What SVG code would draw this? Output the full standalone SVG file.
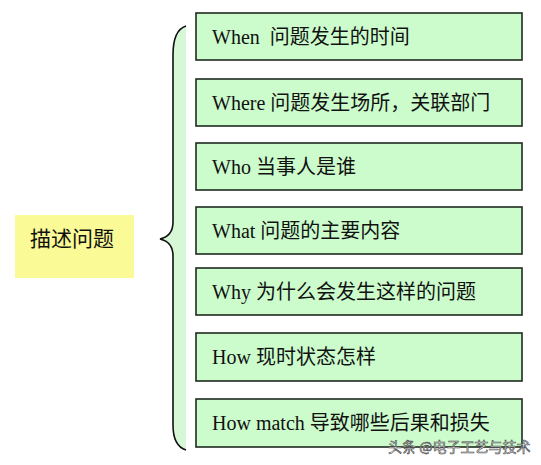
<svg xmlns="http://www.w3.org/2000/svg" width="541" height="465" viewBox="0 0 541 465">
<style>
.box{fill:#ccfccc;stroke:#1f2a1f;stroke-width:1.6}
.t{font-family:"Liberation Serif","Noto Sans CJK SC",serif;font-size:20px;fill:#111}
.main{fill:#fafa96;stroke:none}
</style>
<rect width="541" height="465" fill="#ffffff"/>
<g id="connectors">
<path d="M186,26 Q173,30 173,55 L173,222 Q173,236 160,239 Q173,242 173,256 L173,425 Q173,446 186,450 Z" fill="#d6f8d6" stroke="none"/>
<path d="M186,26 Q173,30 173,55 L173,222 Q173,236 160,239 Q173,242 173,256 L173,425 Q173,446 186,450" fill="none" stroke="#111" stroke-width="1.6"/>
</g>
<g id="main">
<rect class="main" x="15" y="215" width="119" height="63"/>
<text class="t" x="30" y="246" style="font-size:21px">描述问题</text>
</g>
<g id="n1"><rect class="box" x="196" y="13" width="326" height="47"/><text class="t" x="212" y="44" xml:space="preserve">When  问题发生的时间</text></g>
<g id="n2"><rect class="box" x="196" y="79" width="326" height="47"/><text class="t" x="212" y="110">Where 问题发生场所，关联部门</text></g>
<g id="n3"><rect class="box" x="196" y="143" width="326" height="47"/><text class="t" x="212" y="174">Who 当事人是谁</text></g>
<g id="n4"><rect class="box" x="196" y="207" width="326" height="47"/><text class="t" x="212" y="238">What 问题的主要内容</text></g>
<g id="n5"><rect class="box" x="196" y="268" width="326" height="47"/><text class="t" x="212" y="299">Why 为什么会发生这样的问题</text></g>
<g id="n6"><rect class="box" x="196" y="333" width="326" height="48"/><text class="t" x="212" y="364">How 现时状态怎样</text></g>
<g id="n7"><rect class="box" x="196" y="399" width="326" height="48"/><text class="t" x="212" y="430">How match 导致哪些后果和损失</text></g>
<text x="388" y="452" font-family="'Noto Sans CJK SC',sans-serif" font-size="14" fill="#ffffff" stroke="#444" stroke-width="0.6">头条 @电子工艺与技术</text>
</svg>
